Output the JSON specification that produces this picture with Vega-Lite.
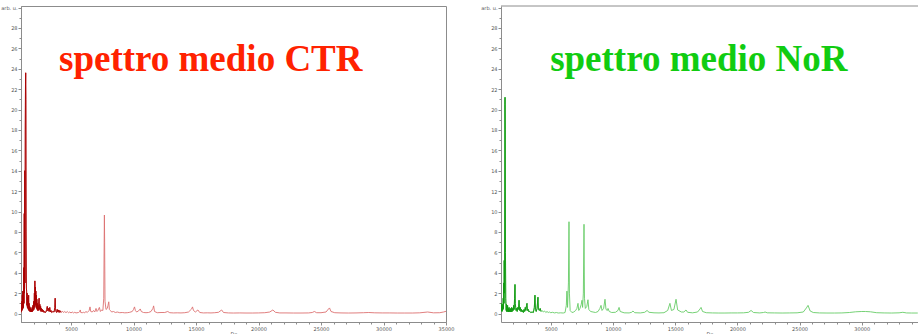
{
  "$schema": "https://vega.github.io/schema/vega-lite/v6.json",
  "padding": {"left": 0, "top": 5, "right": 0, "bottom": 0},
  "background": "white",
  "spacing": 25,
  "config": {
    "view": {"stroke": "#8c8c8c", "strokeWidth": 1},
    "axis": {
      "grid": false,
      "labelFont": "DejaVu Sans",
      "labelFontSize": 5,
      "labelColor": "#555555",
      "labelPadding": 1,
      "labelFlush": false,
      "domainColor": "#8c8c8c",
      "tickColor": "#8c8c8c",
      "titleFont": "DejaVu Sans",
      "titleFontSize": 5,
      "titleFontWeight": "normal",
      "titleColor": "#555555",
      "titlePadding": 0
    }
  },
  "datasets": {
    "ctr": [
      {"mz":1000,"v":0.1},{"mz":1020,"v":0.6},{"mz":1040,"v":0.2},{"mz":1060,"v":1.2},{"mz":1080,"v":0.3},{"mz":1100,"v":1.8},{"mz":1120,"v":0.4},{"mz":1140,"v":2.2},{"mz":1160,"v":0.5},{"mz":1180,"v":1.5},{"mz":1200,"v":0.6},{"mz":1220,"v":4.5},{"mz":1240,"v":1.0},{"mz":1260,"v":9.8},{"mz":1280,"v":2.0},{"mz":1300,"v":14.0},{"mz":1320,"v":3.0},{"mz":1340,"v":18.0},{"mz":1360,"v":22.5},{"mz":1375,"v":23.6},{"mz":1390,"v":21.0},{"mz":1410,"v":8.0},{"mz":1430,"v":2.5},{"mz":1450,"v":2.2},{"mz":1470,"v":0.8},{"mz":1490,"v":2.0},{"mz":1510,"v":0.6},{"mz":1530,"v":1.6},{"mz":1550,"v":0.5},{"mz":1570,"v":1.2},{"mz":1590,"v":0.4},{"mz":1610,"v":1.8},{"mz":1630,"v":0.3},{"mz":1650,"v":1.0},{"mz":1670,"v":0.3},{"mz":1690,"v":0.7},{"mz":1710,"v":0.2},{"mz":1730,"v":0.6},{"mz":1750,"v":0.2},{"mz":1780,"v":0.5},{"mz":1800,"v":0.15},{"mz":1830,"v":0.4},{"mz":1860,"v":0.15},{"mz":1890,"v":0.6},{"mz":1920,"v":0.2},{"mz":1950,"v":0.8},{"mz":1980,"v":0.3},{"mz":2010,"v":1.2},{"mz":2040,"v":0.4},{"mz":2070,"v":2.0},{"mz":2090,"v":0.6},{"mz":2110,"v":3.2},{"mz":2130,"v":1.0},{"mz":2150,"v":2.6},{"mz":2170,"v":0.8},{"mz":2190,"v":2.2},{"mz":2210,"v":0.6},{"mz":2230,"v":1.8},{"mz":2250,"v":0.5},{"mz":2270,"v":1.4},{"mz":2290,"v":0.4},{"mz":2310,"v":1.0},{"mz":2330,"v":0.3},{"mz":2360,"v":0.8},{"mz":2390,"v":0.3},{"mz":2420,"v":1.2},{"mz":2450,"v":1.5},{"mz":2480,"v":0.4},{"mz":2510,"v":0.9},{"mz":2540,"v":0.3},{"mz":2570,"v":0.7},{"mz":2600,"v":0.2},{"mz":2640,"v":0.5},{"mz":2680,"v":0.2},{"mz":2720,"v":0.4},{"mz":2760,"v":0.15},{"mz":2800,"v":0.3},{"mz":2850,"v":0.1},{"mz":2900,"v":0.2},{"mz":2950,"v":0.1},{"mz":3000,"v":0.15},{"mz":3050,"v":0.4},{"mz":3100,"v":0.7},{"mz":3150,"v":0.25},{"mz":3200,"v":0.5},{"mz":3250,"v":0.2},{"mz":3300,"v":0.6},{"mz":3350,"v":0.15},{"mz":3400,"v":0.3},{"mz":3450,"v":0.1},{"mz":3550,"v":0.2},{"mz":3650,"v":0.15},{"mz":3700,"v":0.6},{"mz":3733,"v":1.5},{"mz":3760,"v":0.5},{"mz":3800,"v":0.2},{"mz":3850,"v":0.1},{"mz":3900,"v":0.4},{"mz":3950,"v":0.15},{"mz":4000,"v":0.35},{"mz":4050,"v":0.1},{"mz":4100,"v":0.3},{"mz":4200,"v":0.1},{"mz":4300,"v":0.25},{"mz":4400,"v":0.1},{"mz":4500,"v":0.2},{"mz":4600,"v":0.08},{"mz":4700,"v":0.2},{"mz":4800,"v":0.08},{"mz":4900,"v":0.15},{"mz":5000,"v":0.06},{"mz":5100,"v":0.15},{"mz":5200,"v":0.06},{"mz":5300,"v":0.12},{"mz":5400,"v":0.06},{"mz":5600,"v":0.1},{"mz":5700,"v":0.2},{"mz":5740,"v":0.35},{"mz":5780,"v":0.1},{"mz":5900,"v":0.08},{"mz":6000,"v":0.12},{"mz":6100,"v":0.08},{"mz":6200,"v":0.2},{"mz":6300,"v":0.1},{"mz":6450,"v":0.3},{"mz":6520,"v":0.65},{"mz":6580,"v":0.2},{"mz":6700,"v":0.15},{"mz":6800,"v":0.3},{"mz":6900,"v":0.15},{"mz":7000,"v":0.5},{"mz":7080,"v":0.2},{"mz":7150,"v":0.3},{"mz":7270,"v":0.6},{"mz":7350,"v":0.2},{"mz":7450,"v":0.35},{"mz":7550,"v":0.3},{"mz":7620,"v":1.5},{"mz":7660,"v":8.0},{"mz":7672,"v":9.66},{"mz":7690,"v":7.0},{"mz":7720,"v":1.2},{"mz":7800,"v":0.4},{"mz":7900,"v":0.5},{"mz":7960,"v":0.8},{"mz":8020,"v":1.15},{"mz":8070,"v":0.4},{"mz":8150,"v":0.3},{"mz":8250,"v":0.15},{"mz":8400,"v":0.2},{"mz":8550,"v":0.1},{"mz":8700,"v":0.15},{"mz":8900,"v":0.08},{"mz":9100,"v":0.1},{"mz":9300,"v":0.07},{"mz":9500,"v":0.08},{"mz":9700,"v":0.12},{"mz":9900,"v":0.2},{"mz":10000,"v":0.4},{"mz":10080,"v":0.65},{"mz":10150,"v":0.3},{"mz":10250,"v":0.15},{"mz":10400,"v":0.25},{"mz":10540,"v":0.45},{"mz":10620,"v":0.2},{"mz":10800,"v":0.1},{"mz":11000,"v":0.08},{"mz":11200,"v":0.1},{"mz":11400,"v":0.2},{"mz":11550,"v":0.5},{"mz":11610,"v":0.75},{"mz":11680,"v":0.2},{"mz":11900,"v":0.08},{"mz":12200,"v":0.1},{"mz":12500,"v":0.1},{"mz":12740,"v":0.2},{"mz":12900,"v":0.08},{"mz":13200,"v":0.06},{"mz":13500,"v":0.07},{"mz":13800,"v":0.06},{"mz":14100,"v":0.08},{"mz":14400,"v":0.15},{"mz":14650,"v":0.45},{"mz":14720,"v":0.65},{"mz":14800,"v":0.3},{"mz":14950,"v":0.15},{"mz":15150,"v":0.35},{"mz":15300,"v":0.1},{"mz":15600,"v":0.06},{"mz":15900,"v":0.07},{"mz":16200,"v":0.06},{"mz":16500,"v":0.08},{"mz":16800,"v":0.12},{"mz":17050,"v":0.35},{"mz":17200,"v":0.1},{"mz":17600,"v":0.06},{"mz":18000,"v":0.05},{"mz":18500,"v":0.06},{"mz":19000,"v":0.05},{"mz":19500,"v":0.05},{"mz":20000,"v":0.06},{"mz":20500,"v":0.08},{"mz":20900,"v":0.15},{"mz":21150,"v":0.35},{"mz":21350,"v":0.12},{"mz":21700,"v":0.06},{"mz":22200,"v":0.06},{"mz":22800,"v":0.05},{"mz":23400,"v":0.05},{"mz":24000,"v":0.06},{"mz":24300,"v":0.1},{"mz":24470,"v":0.2},{"mz":24650,"v":0.08},{"mz":25000,"v":0.08},{"mz":25400,"v":0.15},{"mz":25600,"v":0.45},{"mz":25680,"v":0.55},{"mz":25800,"v":0.2},{"mz":26100,"v":0.08},{"mz":26600,"v":0.06},{"mz":27200,"v":0.05},{"mz":27800,"v":0.06},{"mz":28400,"v":0.08},{"mz":28820,"v":0.1},{"mz":29300,"v":0.07},{"mz":29900,"v":0.06},{"mz":30500,"v":0.06},{"mz":31100,"v":0.05},{"mz":31700,"v":0.05},{"mz":32300,"v":0.05},{"mz":32900,"v":0.07},{"mz":33530,"v":0.15},{"mz":34000,"v":0.07},{"mz":34500,"v":0.08},{"mz":34800,"v":0.15},{"mz":35000,"v":0.22}
    ],
    "nor": [
      {"mz":1000,"v":0.2},{"mz":1020,"v":1.0},{"mz":1040,"v":0.3},{"mz":1060,"v":0.8},{"mz":1080,"v":0.2},{"mz":1100,"v":0.6},{"mz":1120,"v":0.3},{"mz":1140,"v":0.9},{"mz":1160,"v":0.4},{"mz":1180,"v":1.5},{"mz":1200,"v":0.5},{"mz":1220,"v":3.0},{"mz":1240,"v":1.0},{"mz":1260,"v":5.2},{"mz":1280,"v":2.0},{"mz":1300,"v":12.0},{"mz":1315,"v":20.5},{"mz":1325,"v":21.2},{"mz":1340,"v":18.0},{"mz":1360,"v":6.0},{"mz":1380,"v":1.5},{"mz":1400,"v":0.8},{"mz":1420,"v":0.3},{"mz":1440,"v":0.9},{"mz":1460,"v":0.2},{"mz":1480,"v":0.6},{"mz":1500,"v":0.2},{"mz":1530,"v":0.8},{"mz":1560,"v":0.2},{"mz":1590,"v":0.5},{"mz":1620,"v":0.15},{"mz":1650,"v":0.6},{"mz":1680,"v":0.2},{"mz":1710,"v":0.4},{"mz":1740,"v":0.15},{"mz":1780,"v":0.5},{"mz":1820,"v":0.15},{"mz":1860,"v":0.6},{"mz":1900,"v":0.2},{"mz":1940,"v":0.5},{"mz":1980,"v":0.3},{"mz":2020,"v":0.8},{"mz":2060,"v":0.4},{"mz":2090,"v":1.5},{"mz":2125,"v":2.85},{"mz":2150,"v":1.0},{"mz":2180,"v":0.6},{"mz":2210,"v":0.3},{"mz":2250,"v":0.5},{"mz":2300,"v":0.2},{"mz":2350,"v":0.6},{"mz":2400,"v":0.4},{"mz":2450,"v":1.3},{"mz":2500,"v":0.3},{"mz":2550,"v":0.6},{"mz":2600,"v":0.2},{"mz":2650,"v":0.4},{"mz":2700,"v":0.15},{"mz":2750,"v":0.3},{"mz":2800,"v":0.1},{"mz":2850,"v":0.4},{"mz":2900,"v":0.2},{"mz":2950,"v":0.6},{"mz":3000,"v":0.3},{"mz":3050,"v":0.8},{"mz":3090,"v":1.0},{"mz":3130,"v":0.3},{"mz":3200,"v":0.4},{"mz":3250,"v":0.15},{"mz":3300,"v":0.2},{"mz":3400,"v":0.1},{"mz":3500,"v":0.15},{"mz":3600,"v":0.1},{"mz":3680,"v":0.6},{"mz":3730,"v":1.8},{"mz":3770,"v":0.4},{"mz":3830,"v":0.2},{"mz":3900,"v":0.5},{"mz":3970,"v":1.6},{"mz":4010,"v":0.4},{"mz":4080,"v":0.3},{"mz":4150,"v":0.5},{"mz":4220,"v":0.2},{"mz":4300,"v":0.3},{"mz":4400,"v":0.15},{"mz":4500,"v":0.25},{"mz":4600,"v":0.1},{"mz":4700,"v":0.2},{"mz":4800,"v":0.1},{"mz":4900,"v":0.15},{"mz":5000,"v":0.08},{"mz":5150,"v":0.12},{"mz":5300,"v":0.06},{"mz":5450,"v":0.1},{"mz":5600,"v":0.05},{"mz":5800,"v":0.07},{"mz":6000,"v":0.05},{"mz":6150,"v":0.1},{"mz":6250,"v":0.8},{"mz":6300,"v":2.2},{"mz":6350,"v":0.6},{"mz":6420,"v":3.0},{"mz":6466,"v":9.0},{"mz":6500,"v":2.0},{"mz":6560,"v":0.3},{"mz":6700,"v":0.1},{"mz":6850,"v":0.15},{"mz":7000,"v":0.3},{"mz":7100,"v":0.5},{"mz":7190,"v":1.0},{"mz":7250,"v":0.3},{"mz":7350,"v":0.5},{"mz":7450,"v":0.9},{"mz":7510,"v":1.3},{"mz":7560,"v":0.6},{"mz":7620,"v":2.0},{"mz":7672,"v":8.75},{"mz":7710,"v":1.5},{"mz":7780,"v":0.5},{"mz":7900,"v":0.7},{"mz":7990,"v":1.35},{"mz":8060,"v":0.4},{"mz":8200,"v":0.2},{"mz":8400,"v":0.15},{"mz":8600,"v":0.1},{"mz":8800,"v":0.2},{"mz":8950,"v":0.5},{"mz":9040,"v":0.8},{"mz":9120,"v":0.3},{"mz":9250,"v":0.5},{"mz":9360,"v":1.4},{"mz":9440,"v":0.4},{"mz":9550,"v":0.3},{"mz":9600,"v":0.5},{"mz":9700,"v":0.2},{"mz":9900,"v":0.1},{"mz":10200,"v":0.12},{"mz":10400,"v":0.3},{"mz":10490,"v":0.6},{"mz":10580,"v":0.2},{"mz":10900,"v":0.07},{"mz":11300,"v":0.06},{"mz":11500,"v":0.12},{"mz":11610,"v":0.25},{"mz":11750,"v":0.08},{"mz":12200,"v":0.06},{"mz":12550,"v":0.12},{"mz":12740,"v":0.3},{"mz":12900,"v":0.12},{"mz":13300,"v":0.07},{"mz":13700,"v":0.06},{"mz":14100,"v":0.08},{"mz":14400,"v":0.3},{"mz":14580,"v":1.0},{"mz":14700,"v":0.3},{"mz":14900,"v":0.4},{"mz":15070,"v":1.4},{"mz":15200,"v":0.35},{"mz":15500,"v":0.15},{"mz":15700,"v":0.15},{"mz":15870,"v":0.35},{"mz":16000,"v":0.12},{"mz":16400,"v":0.07},{"mz":16800,"v":0.15},{"mz":17000,"v":0.45},{"mz":17080,"v":0.6},{"mz":17200,"v":0.2},{"mz":17500,"v":0.08},{"mz":18000,"v":0.06},{"mz":18500,"v":0.05},{"mz":19000,"v":0.05},{"mz":19500,"v":0.06},{"mz":20000,"v":0.06},{"mz":20500,"v":0.07},{"mz":20900,"v":0.12},{"mz":21100,"v":0.3},{"mz":21300,"v":0.1},{"mz":21800,"v":0.06},{"mz":22100,"v":0.1},{"mz":22230,"v":0.15},{"mz":22400,"v":0.07},{"mz":23000,"v":0.06},{"mz":23600,"v":0.05},{"mz":24200,"v":0.06},{"mz":24800,"v":0.07},{"mz":25300,"v":0.15},{"mz":25550,"v":0.55},{"mz":25680,"v":0.8},{"mz":25850,"v":0.25},{"mz":26100,"v":0.1},{"mz":26600,"v":0.06},{"mz":27200,"v":0.05},{"mz":27800,"v":0.05},{"mz":28400,"v":0.06},{"mz":29000,"v":0.1},{"mz":29500,"v":0.17},{"mz":30000,"v":0.2},{"mz":30300,"v":0.2},{"mz":30700,"v":0.17},{"mz":31200,"v":0.08},{"mz":31800,"v":0.06},{"mz":32400,"v":0.05},{"mz":33000,"v":0.07},{"mz":33300,"v":0.12},{"mz":33600,"v":0.06},{"mz":34000,"v":0.05},{"mz":34500,"v":0.05}
    ],
    "titles": [
      {"panel":"CTR","mz":16180,"v":23.8,"label":"spettro medio CTR"},
      {"panel":"NoR","mz":16900,"v":23.8,"label":"spettro medio NoR"}
    ]
  },
  "hconcat": [
    {
      "width": 425,
      "height": 316,
      "resolve": {"axis": {"x": "independent", "y": "independent"}},
      "layer": [
        {
          "data": {"name": "ctr"},
          "mark": {"type": "line", "color": "#dd7070", "strokeWidth": 0.9, "clip": true},
          "encoding": {
            "x": {"field": "mz", "type": "quantitative", "scale": {"domain": [1000, 35000], "nice": false, "zero": false},
              "axis": {"title": "Da", "format": "d", "orient": "bottom", "labelOverlap": false, "tickSize": 3,
                "values": [5000,10000,15000,20000,25000,30000,35000]}},
            "y": {"field": "v", "type": "quantitative", "scale": {"domain": [-0.83, 30.15], "nice": false, "zero": false},
              "axis": {"title": null, "format": "d", "orient": "left", "labelOverlap": false, "tickSize": 3,
                "values": [0,2,4,6,8,10,12,14,16,18,20,22,24,26,28,30],
                "labelExpr": "datum.value === 30 ? 'arb. u.' : datum.label"}}
          }
        },
        {
          "data": {"name": "ctr"},
          "transform": [{"filter": "datum.mz < 4300"}],
          "mark": {"type": "line", "color": "#a80000", "strokeWidth": 0.9, "clip": true},
          "encoding": {
            "x": {"field": "mz", "type": "quantitative",
              "axis": {"title": null, "orient": "bottom", "labels": false, "domain": false, "tickSize": 2,
                "values": [2000,3000,4000,6000,7000,8000,9000,11000,12000,13000,14000,16000,17000,18000,19000,21000,22000,23000,24000,26000,27000,28000,29000,31000,32000,33000,34000]}},
            "y": {"field": "v", "type": "quantitative",
              "axis": {"title": null, "orient": "left", "labels": false, "domain": false, "tickSize": 2,
                "values": [1,3,5,7,9,11,13,15,17,19,21,23,25,27,29]}}
          }
        },
        {
          "data": {"name": "titles"},
          "transform": [{"filter": "datum.panel === 'CTR'"}],
          "mark": {"type": "text", "font": "Liberation Serif", "fontWeight": "bold", "fontSize": 37, "color": "#ff2200", "align": "center", "baseline": "alphabetic"},
          "encoding": {
            "x": {"field": "mz", "type": "quantitative", "axis": null},
            "y": {"field": "v", "type": "quantitative", "axis": null},
            "text": {"field": "label"}
          }
        }
      ]
    },
    {
      "width": 417,
      "height": 316,
      "view": {"stroke": null},
      "resolve": {"axis": {"x": "independent", "y": "independent"}},
      "layer": [
        {
          "data": {"name": "nor"},
          "mark": {"type": "line", "color": "#66cc66", "strokeWidth": 0.9, "clip": true},
          "encoding": {
            "x": {"field": "mz", "type": "quantitative", "scale": {"domain": [1000, 34520], "nice": false, "zero": false},
              "axis": {"title": "Da", "format": "d", "orient": "bottom", "labelOverlap": false, "tickSize": 3,
                "values": [5000,10000,15000,20000,25000,30000]}},
            "y": {"field": "v", "type": "quantitative", "scale": {"domain": [-0.83, 30.15], "nice": false, "zero": false},
              "axis": {"title": null, "format": "d", "orient": "left", "labelOverlap": false, "tickSize": 3,
                "values": [0,2,4,6,8,10,12,14,16,18,20,22,24,26,28,30],
                "labelExpr": "datum.value === 30 ? 'arb. u.' : datum.label"}}
          }
        },
        {
          "data": {"name": "nor"},
          "transform": [{"filter": "datum.mz < 4300"}],
          "mark": {"type": "line", "color": "#119911", "strokeWidth": 0.9, "clip": true},
          "encoding": {
            "x": {"field": "mz", "type": "quantitative",
              "axis": {"title": null, "orient": "bottom", "labels": false, "domain": false, "tickSize": 2,
                "values": [2000,3000,4000,6000,7000,8000,9000,11000,12000,13000,14000,16000,17000,18000,19000,21000,22000,23000,24000,26000,27000,28000,29000,31000,32000,33000,34000]}},
            "y": {"field": "v", "type": "quantitative",
              "axis": {"title": null, "orient": "left", "labels": false, "domain": false, "tickSize": 2,
                "values": [1,3,5,7,9,11,13,15,17,19,21,23,25,27,29]}}
          }
        },
        {
          "data": {"name": "titles"},
          "transform": [{"filter": "datum.panel === 'NoR'"}],
          "mark": {"type": "text", "font": "Liberation Serif", "fontWeight": "bold", "fontSize": 37, "color": "#11cc11", "align": "center", "baseline": "alphabetic"},
          "encoding": {
            "x": {"field": "mz", "type": "quantitative", "axis": null},
            "y": {"field": "v", "type": "quantitative", "axis": null},
            "text": {"field": "label"}
          }
        },
        {
          "data": {"name": "titles"},
          "transform": [{"filter": "datum.panel === 'NoR'"}],
          "mark": {"type": "rule", "color": "#8c8c8c", "strokeWidth": 1},
          "encoding": {
            "x": {"datum": 1000, "type": "quantitative", "axis": null},
            "x2": {"datum": 34520},
            "y": {"datum": 30.15, "type": "quantitative", "axis": null}
          }
        }
      ]
    }
  ]
}
